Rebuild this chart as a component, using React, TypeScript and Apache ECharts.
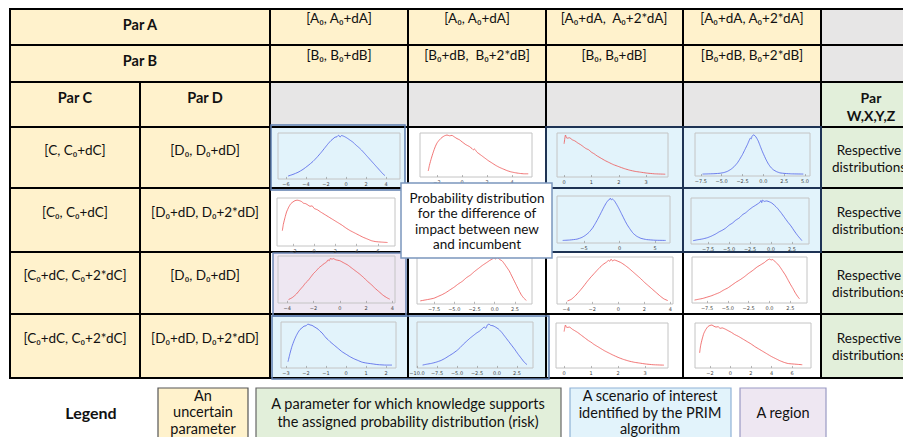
import React, { useEffect, useRef } from "react";
import * as echarts from "echarts";

// ---------- texts ----------
const parHeaders = ["Par A", "Par B", "Par C", "Par D", "Par\nW,X,Y,Z"];
const parARanges = ["[A₀, A₀+dA]", "[A₀, A₀+dA]", "[A₀+dA,  A₀+2*dA]", "[A₀+dA, A₀+2*dA]"];
const parBRanges = ["[B₀, B₀+dB]", "[B₀+dB,  B₀+2*dB]", "[B₀, B₀+dB]", "[B₀+dB, B₀+2*dB]"];
const parCRanges = ["[C, C₀+dC]", "[C₀, C₀+dC]", "[C₀+dC, C₀+2*dC]", "[C₀+dC, C₀+2*dC]"];
const parDRanges = ["[D₀, D₀+dD]", "[D₀+dD, D₀+2*dD]", "[D₀, D₀+dD]", "[D₀+dD, D₀+2*dD]"];
const outputLabel = "Respective\ndistributions";
const calloutText = "Probability distribution\nfor the difference of\nimpact between new\nand incumbent";
const legendTitle = "Legend";
const legendItems = [
  "An\nuncertain\nparameter",
  "A parameter for which knowledge supports\nthe assigned probability distribution (risk)",
  "A scenario of interest\nidentified by the PRIM\nalgorithm",
  "A region",
];

// ---------- tick labels ----------
const ticksR1C1 = [-6, -4, -2, 0, 2, 4];
const ticksR1C2 = [-2, 0, 2, 4];
const ticksR1C3 = [0, 1, 2, 3];
const ticksR1C4 = [-7.5, -5, -2.5, 0, 2.5, 5];
const ticksR2C1 = [-2, 0, 2, 4, 6];
const ticksR2C3 = [-5, 0, 5];
const ticksR2C4 = [-7.5, -5, -2.5, 0, 2.5];
const ticksR3C1 = [-4, -2, 0, 2, 4];
const ticksR3C2 = [-7.5, -5, -2.5, 0, 2.5];
const ticksR3C3 = [-4, -2, 0, 2, 4];
const ticksR3C4 = [-7.5, -5, -2.5, 0, 2.5];
const ticksR4C1 = [-3, -2, -1, 0, 1, 2];
const ticksR4C2 = [-10, -7.5, -5, -2.5, 0, 2.5];
const ticksR4C3 = [0, 1, 2, 3];
const ticksR4C4 = [-2, 0, 2, 4, 6];

// ---------- curves (x, relative density) ----------
const curveR1C1 = [[-5.8,0.02],[-5.3,0.06],[-4.8,0.11],[-4.3,0.18],[-3.8,0.27],[-3.3,0.37],[-2.9,0.47],[-2.5,0.58],[-2.1,0.70],[-1.8,0.79],[-1.5,0.87],[-1.3,0.91],[-1.1,0.95],[-0.9,0.96],[-0.75,1.0],[-0.6,0.95],[-0.45,0.99],[-0.2,0.97],[0.1,0.93],[0.4,0.88],[0.7,0.83],[1.0,0.76],[1.3,0.70],[1.6,0.63],[1.9,0.55],[2.2,0.47],[2.5,0.39],[2.8,0.31],[3.1,0.23],[3.4,0.15],[3.7,0.07],[3.9,0.03]];
const curveR1C2 = [[-2.7,0.10],[-2.6,0.25],[-2.45,0.42],[-2.3,0.57],[-2.15,0.70],[-2.0,0.80],[-1.8,0.88],[-1.6,0.94],[-1.4,0.98],[-1.2,1.0],[-1.0,0.98],[-0.8,0.99],[-0.6,0.95],[-0.4,0.91],[-0.2,0.88],[0.0,0.83],[0.3,0.76],[0.6,0.71],[0.8,0.66],[0.9,0.63],[1.0,0.65],[1.2,0.57],[1.5,0.50],[1.8,0.43],[2.1,0.36],[2.4,0.30],[2.7,0.24],[3.0,0.19],[3.3,0.15],[3.6,0.11],[3.9,0.08],[4.2,0.06],[4.6,0.04],[5.0,0.03],[5.3,0.03]];
const curveR1C3 = [[0.0,0.78],[0.05,1.0],[0.1,0.92],[0.2,0.93],[0.3,0.88],[0.4,0.85],[0.5,0.80],[0.6,0.76],[0.7,0.71],[0.8,0.66],[0.9,0.63],[1.0,0.57],[1.1,0.53],[1.2,0.48],[1.35,0.42],[1.5,0.36],[1.65,0.31],[1.8,0.26],[2.0,0.21],[2.2,0.16],[2.4,0.12],[2.6,0.09],[2.8,0.07],[3.0,0.05],[3.3,0.03],[3.7,0.02]];
const curveR1C4 = [[-7.3,0.0],[-6.5,0.005],[-5.8,0.01],[-5.2,0.02],[-4.7,0.04],[-4.3,0.07],[-3.9,0.12],[-3.5,0.19],[-3.1,0.29],[-2.8,0.39],[-2.5,0.50],[-2.2,0.63],[-1.9,0.76],[-1.7,0.86],[-1.55,0.92],[-1.45,0.90],[-1.35,0.97],[-1.2,1.0],[-1.0,0.98],[-0.8,0.92],[-0.6,0.84],[-0.4,0.73],[-0.2,0.62],[0.0,0.52],[0.3,0.38],[0.6,0.26],[0.9,0.17],[1.2,0.11],[1.6,0.06],[2.0,0.03],[2.6,0.015],[3.4,0.005],[4.8,0.0]];
const curveR2C1 = [[-3.0,0.30],[-2.9,0.45],[-2.75,0.60],[-2.6,0.73],[-2.4,0.84],[-2.2,0.92],[-2.0,0.96],[-1.8,0.99],[-1.6,1.0],[-1.4,0.99],[-1.2,0.97],[-1.0,0.93],[-0.8,0.92],[-0.6,0.89],[-0.4,0.86],[-0.2,0.87],[0.0,0.81],[0.3,0.78],[0.6,0.73],[1.0,0.67],[1.4,0.61],[1.8,0.55],[2.2,0.49],[2.6,0.43],[3.0,0.36],[3.4,0.30],[3.8,0.25],[4.2,0.20],[4.6,0.15],[5.0,0.11],[5.4,0.07],[5.8,0.05],[6.3,0.04],[6.9,0.03]];
const curveR2C3 = [[-8.0,0.01],[-7.0,0.02],[-6.0,0.04],[-5.3,0.08],[-4.8,0.13],[-4.3,0.20],[-3.8,0.30],[-3.4,0.41],[-3.0,0.53],[-2.6,0.66],[-2.2,0.79],[-1.9,0.88],[-1.6,0.95],[-1.4,0.97],[-1.3,1.0],[-1.15,0.96],[-1.0,0.98],[-0.7,0.93],[-0.4,0.85],[-0.1,0.76],[0.2,0.66],[0.5,0.56],[0.8,0.46],[1.1,0.37],[1.5,0.27],[1.9,0.18],[2.4,0.11],[3.0,0.06],[3.8,0.03],[5.0,0.015],[6.5,0.01]];
const curveR2C4 = [[-9.3,0.03],[-8.8,0.05],[-8.2,0.07],[-7.6,0.10],[-7.1,0.14],[-6.6,0.19],[-6.2,0.24],[-5.8,0.28],[-5.4,0.33],[-5.0,0.40],[-4.6,0.45],[-4.2,0.52],[-3.8,0.57],[-3.4,0.65],[-3.0,0.70],[-2.6,0.77],[-2.2,0.83],[-1.8,0.88],[-1.5,0.92],[-1.3,0.95],[-1.2,0.99],[-1.1,0.94],[-1.0,1.0],[-0.8,0.97],[-0.5,0.98],[-0.2,0.96],[0.1,0.93],[0.4,0.88],[0.8,0.80],[1.2,0.70],[1.6,0.59],[2.0,0.48],[2.4,0.38],[2.8,0.26],[3.2,0.15],[3.5,0.08],[3.7,0.03]];
const curveR3C1 = [[-3.9,0.03],[-3.6,0.08],[-3.3,0.16],[-3.0,0.27],[-2.8,0.34],[-2.6,0.42],[-2.4,0.48],[-2.2,0.56],[-2.0,0.64],[-1.8,0.70],[-1.6,0.77],[-1.4,0.82],[-1.2,0.87],[-1.0,0.91],[-0.9,0.96],[-0.8,0.94],[-0.7,1.0],[-0.6,0.97],[-0.5,0.99],[-0.3,0.96],[0.0,0.94],[0.3,0.89],[0.6,0.84],[0.9,0.77],[1.2,0.70],[1.5,0.63],[1.8,0.55],[2.1,0.46],[2.4,0.38],[2.7,0.29],[3.0,0.21],[3.3,0.13],[3.6,0.07],[3.8,0.04]];
const curveR3C2 = [[-9.2,0.02],[-8.6,0.04],[-8.0,0.06],[-7.5,0.08],[-7.0,0.12],[-6.5,0.16],[-6.0,0.21],[-5.5,0.27],[-5.0,0.33],[-4.5,0.40],[-4.0,0.46],[-3.5,0.54],[-3.0,0.60],[-2.5,0.68],[-2.0,0.75],[-1.5,0.82],[-1.0,0.88],[-0.6,0.93],[-0.3,0.96],[-0.1,0.99],[0.1,0.96],[0.3,1.0],[0.6,0.95],[0.9,0.92],[1.2,0.85],[1.5,0.77],[1.8,0.69],[2.1,0.58],[2.4,0.47],[2.7,0.36],[3.0,0.25],[3.3,0.15],[3.6,0.08],[3.9,0.03]];
const curveR3C3 = [[-3.9,0.02],[-3.6,0.06],[-3.3,0.14],[-3.0,0.24],[-2.7,0.35],[-2.4,0.47],[-2.1,0.58],[-1.8,0.68],[-1.5,0.78],[-1.3,0.84],[-1.1,0.89],[-0.9,0.93],[-0.75,0.97],[-0.65,0.95],[-0.55,1.0],[-0.45,0.96],[-0.3,0.98],[-0.1,0.96],[0.2,0.92],[0.5,0.86],[0.8,0.79],[1.1,0.71],[1.4,0.63],[1.7,0.55],[2.0,0.46],[2.3,0.38],[2.6,0.30],[2.9,0.22],[3.2,0.14],[3.5,0.07],[3.8,0.03]];
const curveR3C4 = [[-9.0,0.02],[-8.5,0.04],[-8.0,0.06],[-7.5,0.09],[-7.0,0.12],[-6.5,0.16],[-6.0,0.20],[-5.5,0.26],[-5.0,0.31],[-4.5,0.38],[-4.0,0.45],[-3.5,0.51],[-3.0,0.58],[-2.5,0.66],[-2.0,0.73],[-1.5,0.81],[-1.0,0.87],[-0.6,0.92],[-0.3,0.97],[0.0,1.0],[0.2,0.98],[0.4,0.99],[0.7,0.93],[1.0,0.88],[1.3,0.80],[1.6,0.71],[1.9,0.62],[2.2,0.51],[2.5,0.40],[2.8,0.30],[3.1,0.19],[3.4,0.10],[3.6,0.05]];
const curveR4C1 = [[-2.9,0.10],[-2.8,0.30],[-2.7,0.47],[-2.6,0.60],[-2.5,0.71],[-2.4,0.80],[-2.3,0.87],[-2.2,0.91],[-2.1,0.95],[-2.0,0.96],[-1.9,1.0],[-1.8,0.98],[-1.7,0.97],[-1.6,0.94],[-1.5,0.91],[-1.4,0.88],[-1.3,0.83],[-1.2,0.79],[-1.1,0.73],[-1.0,0.67],[-0.9,0.63],[-0.8,0.58],[-0.6,0.50],[-0.4,0.42],[-0.2,0.34],[0.0,0.28],[0.2,0.22],[0.4,0.17],[0.6,0.13],[0.8,0.09],[1.0,0.07],[1.3,0.05],[1.6,0.03],[2.0,0.02],[2.3,0.02]];
const curveR4C2 = [[-9.3,0.02],[-8.8,0.04],[-8.2,0.06],[-7.6,0.09],[-7.0,0.13],[-6.5,0.18],[-6.0,0.24],[-5.5,0.30],[-5.0,0.37],[-4.6,0.44],[-4.2,0.52],[-3.8,0.59],[-3.4,0.66],[-3.0,0.72],[-2.6,0.78],[-2.2,0.83],[-1.9,0.88],[-1.6,0.93],[-1.4,0.90],[-1.2,0.98],[-1.0,1.0],[-0.8,0.97],[-0.5,0.96],[-0.2,0.93],[0.2,0.88],[0.6,0.80],[1.0,0.70],[1.4,0.60],[1.8,0.50],[2.2,0.40],[2.6,0.29],[3.0,0.19],[3.4,0.09],[3.75,0.03]];
const curveR4C3 = [[0.0,0.84],[0.05,1.0],[0.1,0.94],[0.2,0.95],[0.3,0.90],[0.4,0.86],[0.5,0.82],[0.6,0.77],[0.7,0.72],[0.8,0.67],[0.9,0.62],[1.0,0.58],[1.1,0.53],[1.2,0.49],[1.35,0.43],[1.5,0.37],[1.65,0.32],[1.8,0.27],[2.0,0.21],[2.2,0.16],[2.4,0.12],[2.6,0.09],[2.8,0.07],[3.0,0.05],[3.3,0.03],[3.7,0.02]];
const curveR4C4 = [[-3.0,0.32],[-2.9,0.50],[-2.75,0.66],[-2.6,0.79],[-2.4,0.89],[-2.2,0.96],[-2.0,0.99],[-1.8,1.0],[-1.6,0.97],[-1.4,0.95],[-1.2,0.96],[-1.0,0.92],[-0.8,0.93],[-0.5,0.90],[-0.2,0.86],[0.1,0.82],[0.4,0.77],[0.8,0.72],[1.2,0.66],[1.6,0.60],[2.0,0.54],[2.4,0.47],[2.8,0.41],[3.2,0.35],[3.6,0.29],[4.0,0.23],[4.4,0.18],[4.8,0.13],[5.2,0.09],[5.6,0.06],[6.0,0.05],[6.5,0.04],[7.0,0.03]];

// x-axis extents for each mini plot
const xRanges: Record<string, [number, number]> = {
  R1C1: [-6.8, 5.4], R1C2: [-3.36, 5.6], R1C3: [-0.26, 3.8], R1C4: [-8.2, 5.6],
  R2C1: [-3.5, 7.6], R2C3: [-8.8, 7.1], R2C4: [-9.55, 4.55],
  R3C1: [-4.7, 4.2], R3C2: [-9.6, 4.6], R3C3: [-4.7, 4.2], R3C4: [-9.3, 4.5],
  R4C1: [-3.25, 2.5], R4C2: [-10.0, 4.5], R4C3: [-0.3, 3.85], R4C4: [-3.45, 7.85],
};

// ---------- layout (pixels) ----------
const colX = [10, 140, 270, 408, 546, 683, 821, 960];
const rowY = [9, 45, 82, 127, 188, 252, 314, 378];

const C = {
  yellow: "#FFF2CC",
  gray: "#E7E6E6",
  green: "#E2EFDA",
  blue: "#E2F3FB",
  lav: "#EEE7F2",
  white: "#FFFFFF",
  red: "#EE5353",
  bl: "#4F5FE8",
};
const FONT = "Lato, 'Open Sans', sans-serif";

type Plot = { key: string; curve: number[][]; ticks: number[]; color: string; bg: string; rect: [number, number, number, number]; dec: boolean };
const plots: Plot[] = [
  { key: "R1C1", curve: curveR1C1, ticks: ticksR1C1, color: C.bl, bg: "transparent", rect: [278, 133, 122, 46], dec: false },
  { key: "R1C2", curve: curveR1C2, ticks: ticksR1C2, color: C.red, bg: C.white, rect: [420, 133, 112, 44], dec: false },
  { key: "R1C3", curve: curveR1C3, ticks: ticksR1C3, color: C.red, bg: "transparent", rect: [557, 133, 111, 44], dec: false },
  { key: "R1C4", curve: curveR1C4, ticks: ticksR1C4, color: C.bl, bg: "transparent", rect: [695, 133, 115, 43], dec: true },
  { key: "R2C1", curve: curveR2C1, ticks: ticksR2C1, color: C.red, bg: C.white, rect: [277, 198, 118, 48], dec: false },
  { key: "R2C3", curve: curveR2C3, ticks: ticksR2C3, color: C.bl, bg: "transparent", rect: [557, 196, 113, 47], dec: false },
  { key: "R2C4", curve: curveR2C4, ticks: ticksR2C4, color: C.bl, bg: "transparent", rect: [691, 198, 118, 46], dec: true },
  { key: "R3C1", curve: curveR3C1, ticks: ticksR3C1, color: C.red, bg: "transparent", rect: [278, 256, 117, 47], dec: false },
  { key: "R3C2", curve: curveR3C2, ticks: ticksR3C2, color: C.red, bg: C.white, rect: [417, 255, 115, 49], dec: true },
  { key: "R3C3", curve: curveR3C3, ticks: ticksR3C3, color: C.red, bg: C.white, rect: [557, 257, 116, 47], dec: false },
  { key: "R3C4", curve: curveR3C4, ticks: ticksR3C4, color: C.red, bg: C.white, rect: [692, 257, 115, 46], dec: true },
  { key: "R4C1", curve: curveR4C1, ticks: ticksR4C1, color: C.bl, bg: "transparent", rect: [281, 322, 115, 46], dec: false },
  { key: "R4C2", curve: curveR4C2, ticks: ticksR4C2, color: C.bl, bg: "transparent", rect: [417, 322, 116, 46], dec: true },
  { key: "R4C3", curve: curveR4C3, ticks: ticksR4C3, color: C.red, bg: C.white, rect: [556, 323, 112, 45], dec: false },
  { key: "R4C4", curve: curveR4C4, ticks: ticksR4C4, color: C.red, bg: C.white, rect: [695, 323, 116, 45], dec: false },
];

function rect(x: number, y: number, w: number, h: number, fill: string, stroke?: string, lw = 1, z = -10) {
  return { type: "rect", z, silent: true, shape: { x, y, width: w, height: h }, style: { fill, stroke: stroke || "none", lineWidth: lw } };
}
function line(x1: number, y1: number, x2: number, y2: number, stroke = "#000", lw = 2, z = -5) {
  return { type: "line", z, silent: true, shape: { x1, y1, x2, y2 }, style: { stroke, lineWidth: lw } };
}
function text(x: number, y: number, t: string, size: number, opts: any = {}) {
  return {
    type: "text", z: opts.z ?? -1, silent: true, x, y,
    style: {
      text: t, fontSize: size, fontFamily: FONT, fontWeight: opts.bold ? "bold" : "normal",
      fill: opts.color || "#111", align: opts.align || "center", verticalAlign: "middle",
      textAlign: opts.align || "center", textVerticalAlign: "middle", lineHeight: opts.lh || size * 1.25,
    },
  };
}

function buildGraphics() {
  const g: any[] = [];
  const W = (i: number, j: number) => colX[j] - colX[i];
  const H = (i: number, j: number) => rowY[j] - rowY[i];
  // header rows A, B
  for (let r = 0; r < 2; r++) {
    g.push(rect(colX[0], rowY[r], W(0, 2), H(r, r + 1), C.yellow));
    for (let c = 2; c < 6; c++) g.push(rect(colX[c], rowY[r], W(c, c + 1), H(r, r + 1), C.yellow));
    g.push(rect(colX[6], rowY[r], W(6, 7), H(r, r + 1), C.gray));
  }
  // header row C/D
  g.push(rect(colX[0], rowY[2], W(0, 2), H(2, 3), C.yellow));
  for (let c = 2; c < 6; c++) g.push(rect(colX[c], rowY[2], W(c, c + 1), H(2, 3), C.gray));
  g.push(rect(colX[6], rowY[2], W(6, 7), H(2, 3), C.green));
  // body rows
  for (let r = 3; r < 7; r++) {
    g.push(rect(colX[0], rowY[r], W(0, 2), H(r, r + 1), C.yellow));
    for (let c = 2; c < 6; c++) g.push(rect(colX[c], rowY[r], W(c, c + 1), H(r, r + 1), C.white));
    g.push(rect(colX[6], rowY[r], W(6, 7), H(r, r + 1), C.green));
  }
  // highlight fills
  g.push(rect(271, 125, 134, 65, C.blue, undefined, 1, -9));
  g.push(rect(546, 127, 275, 125, C.blue, undefined, 1, -9));
  g.push(rect(273, 253, 133, 63, C.lav, undefined, 1, -9));
  g.push(rect(272, 316, 277, 63, C.blue, undefined, 1, -9));

  // grid lines
  [0, 1, 2, 3, 4, 5, 6, 7].forEach((r) => g.push(line(colX[0] - 1, rowY[r], 905, rowY[r])));
  g.push(line(colX[0], rowY[0] - 1, colX[0], rowY[7] + 1));
  g.push(line(colX[1], rowY[2], colX[1], rowY[7]));
  for (let c = 2; c < 7; c++) g.push(line(colX[c], rowY[0] - 1, colX[c], rowY[7] + 1));

  // highlight borders
  g.push(rect(271, 125, 134, 65, "none", "#5E7DAE", 1.5, -4));
  g.push(rect(546, 127, 275, 125, "none", "#1E3354", 2, -4));
  g.push(line(683, 127, 683, 252, "#1E3354", 2, -4));
  g.push(line(546, 188, 821, 188, "#1E3354", 2, -4));
  g.push(rect(273, 253, 133, 63, "none", "#6E88B5", 1.5, -4));
  g.push(rect(272, 316, 277, 63, "none", "#5E7DAE", 1.5, -4));

  // header texts
  g.push(text(140, 24, parHeaders[0], 14.5, { bold: true }));
  g.push(text(140, 60, parHeaders[1], 14.5, { bold: true }));
  g.push(text(75, 97, parHeaders[2], 14.5, { bold: true }));
  g.push(text(205, 97, parHeaders[3], 14.5, { bold: true }));
  g.push(text(871, 106, parHeaders[4], 14, { bold: true, lh: 18 }));
  const colCenters = [339, 477, 614, 752];
  parARanges.forEach((t, i) => g.push(text(colCenters[i], 18, t, 13.5)));
  parBRanges.forEach((t, i) => g.push(text(colCenters[i], 55, t, 13.5)));
  const rowTextY = [150, 212, 275, 338];
  parCRanges.forEach((t, i) => g.push(text(75, rowTextY[i], t, 13.5)));
  parDRanges.forEach((t, i) => g.push(text(205, rowTextY[i], t, 13.5)));
  rowTextY.forEach((y) => g.push(text(869, y + 8.5, outputLabel, 13.5, { lh: 17 })));

  // callout
  g.push(rect(401, 183, 151, 75, "#FFFFFF", "#7B96BD", 1.5, 50));
  g.push(text(477, 221, calloutText, 13.5, { lh: 15.3, z: 51 }));

  // legend
  g.push(text(91, 412, legendTitle, 16, { bold: true }));
  g.push(rect(158, 388, 90, 50, C.yellow, "#555555", 1.2));
  g.push(text(203, 411.5, legendItems[0], 14.5, { lh: 16.5 }));
  g.push(rect(256, 388, 305, 50, C.green, "#666666", 1.2));
  g.push(text(408, 412, legendItems[1], 14.5, { lh: 18 }));
  g.push(rect(570, 388, 161, 50, C.blue, "#8FB2D6", 1.2));
  g.push(text(650, 412, legendItems[2], 14.5, { lh: 16.5 }));
  g.push(rect(740, 388, 86, 50, C.lav, "#9A9AC4", 1.2));
  g.push(text(783, 412, legendItems[3], 14.5));
  return g;
}

function buildOption() {
  const grid: any[] = [];
  const xAxis: any[] = [];
  const yAxis: any[] = [];
  const series: any[] = [];
  plots.forEach((p, i) => {
    const [l, t, w, h] = p.rect;
    grid.push({ left: l, top: t, width: w, height: h, show: true, borderColor: "#C4C4C4", borderWidth: 1, backgroundColor: p.bg, z: 2 });
    const fmt = (v: number) => (p.dec ? v.toFixed(1) : String(v)).replace("-", "−");
    xAxis.push({
      type: "value", gridIndex: i, min: xRanges[p.key][0], max: xRanges[p.key][1],
      axisLine: { show: false }, splitLine: { show: false },
      axisTick: { show: true, length: 2, customValues: p.ticks, lineStyle: { color: "#888", width: 0.6 } },
      axisLabel: { show: true, fontSize: 5, color: "#444", margin: 2.5, customValues: p.ticks, formatter: fmt, fontFamily: "DejaVu Sans" },
      z: 3,
    });
    yAxis.push({ type: "value", gridIndex: i, min: -0.05, max: 1.05, show: false });
    series.push({
      type: "line", xAxisIndex: i, yAxisIndex: i, data: p.curve, showSymbol: false, symbol: "none",
      lineStyle: { color: p.color, width: 0.8 }, smooth: 0.15, silent: true, z: 4,
    });
  });
  return { animation: false, backgroundColor: "#FFFFFF", grid, xAxis, yAxis, series, graphic: { elements: buildGraphics() } };
}

export default function App() {
  const ref = useRef<HTMLDivElement>(null);
  useEffect(() => {
    if (!ref.current) return;
    const chart = echarts.init(ref.current, undefined, { renderer: "svg" });
    chart.setOption(buildOption() as any);
    return () => chart.dispose();
  }, []);
  return <div ref={ref} style={{ position: "fixed", left: 0, top: 0, width: 903, height: 437 }} />;
}
